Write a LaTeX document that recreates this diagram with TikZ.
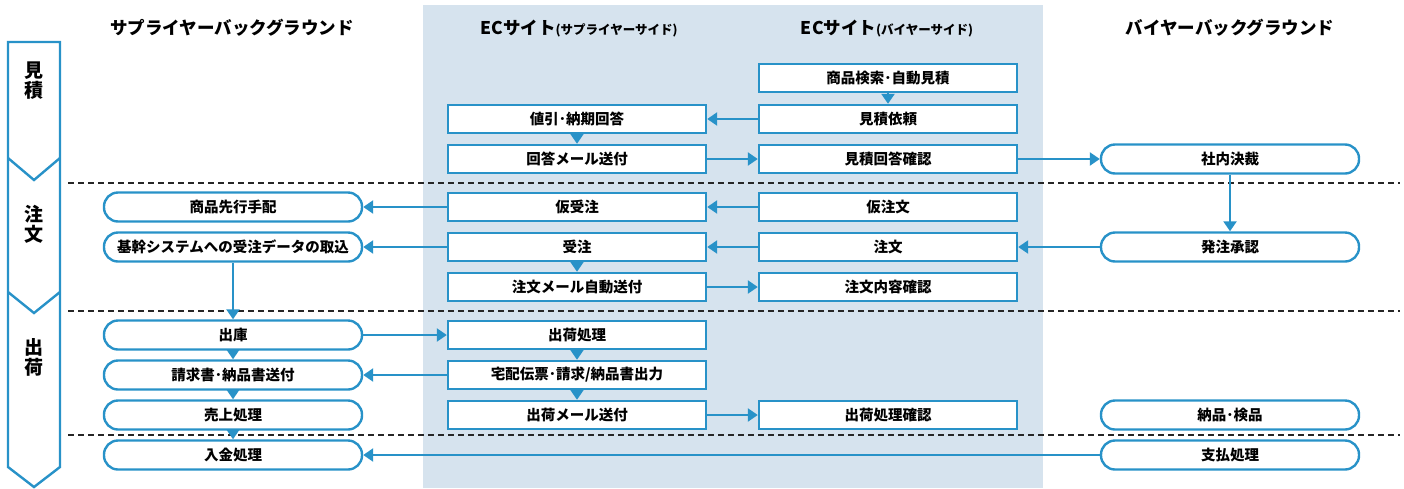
\documentclass[tikz,border=0pt]{standalone}
\usepackage{fontspec}
\setmainfont{Noto Sans CJK JP}
\usetikzlibrary{arrows.meta}

\definecolor{flowblue}{RGB}{40,146,200}
\definecolor{panelblue}{RGB}{214,227,238}

\begin{document}
\begin{tikzpicture}
  [x=1pt,y=-1pt,
   ecbox/.style={draw=flowblue,line width=2.4pt,fill=white,minimum width=258pt,minimum height=28pt,inner sep=0pt,font=\bfseries\fontsize{14.5}{16}\selectfont},
   bgbox/.style={ecbox,rounded corners=14pt,minimum height=29pt},
   flow/.style={draw=flowblue,line width=2.3pt,-{Triangle[length=10pt,width=13pt]}},
   phase/.style={draw=black!85,line width=1.4pt,dash pattern=on 6pt off 4pt},
   head/.style={font=\bfseries\fontsize{17.5}{20}\selectfont},
   steplabel/.style={align=center,inner sep=0pt,font=\bfseries\fontsize{19}{20}\selectfont}]
  \useasboundingbox (0,0) rectangle (1404,488);
  \fill[panelblue] (423,5) rectangle (1043,488);

  % phase column on the left
  \draw[flowblue,line width=2.4pt] (8,42) -- (60,42) -- (60,467) -- (34,487) -- (8,467) -- cycle;
  \draw[flowblue,line width=2.4pt] (8,158) -- (34,180) -- (60,158);
  \draw[flowblue,line width=2.4pt] (8,292) -- (34,313) -- (60,292);
  \node[steplabel] (pMitsumori) at (34,81) {見\\積};
  \node[steplabel] (pChumon) at (34,224) {注\\文};
  \node[steplabel] (pShukka) at (34,357) {出\\荷};

  \draw[phase] (68,183) -- (1400,183);
  \draw[phase] (68,311) -- (1400,311);
  \draw[phase] (68,435) -- (1400,435);

  % headings
  \node[head] (hSupBg) at (232,28) {サプライヤーバックグラウンド};
  \node[head] (hEcSup) at (579,29) {ECサイト{\fontsize{12.5}{14}\selectfont (サプライヤーサイド)}};
  \node[head] (hEcBuy) at (887,29) {ECサイト{\fontsize{12.5}{14}\selectfont (バイヤーサイド)}};
  \node[head] (hBuyBg) at (1230,28) {バイヤーバックグラウンド};

  % supplier background
  \node[bgbox] (sbTehai)    at (233,207) {商品先行手配};
  \node[bgbox] (sbTorikomi) at (233,247) {基幹システムへの受注データの取込};
  \node[bgbox] (sbShukko)   at (233,335) {出庫};
  \node[bgbox] (sbSeikyu)   at (233,375) {請求書･納品書送付};
  \node[bgbox] (sbUriage)   at (233,415) {売上処理};
  \node[bgbox] (sbNyukin)   at (233,455) {入金処理};

  % EC site, supplier side
  \node[ecbox] (esNebiki)     at (577,119) {値引･納期回答};
  \node[ecbox] (esKaito)      at (577,159) {回答メール送付};
  \node[ecbox] (esKariJuchu)  at (577,207) {仮受注};
  \node[ecbox] (esJuchu)      at (577,247) {受注};
  \node[ecbox] (esMail)       at (577,287) {注文メール自動送付};
  \node[ecbox] (esShukka)     at (577,335) {出荷処理};
  \node[ecbox] (esDenpyo)     at (577,375) {宅配伝票･請求/納品書出力};
  \node[ecbox] (esShukkaMail) at (577,415) {出荷メール送付};

  % EC site, buyer side
  \node[ecbox] (ebKensaku)    at (888,78)  {商品検索･自動見積};
  \node[ecbox] (ebIrai)       at (888,119) {見積依頼};
  \node[ecbox] (ebKakunin)    at (888,159) {見積回答確認};
  \node[ecbox] (ebKariChumon) at (888,207) {仮注文};
  \node[ecbox] (ebChumon)     at (888,247) {注文};
  \node[ecbox] (ebNaiyo)      at (888,287) {注文内容確認};
  \node[ecbox] (ebShukka)     at (888,415) {出荷処理確認};

  % buyer background
  \node[bgbox] (bbKessai)   at (1230,159) {社内決裁};
  \node[bgbox] (bbShonin)   at (1230,247) {発注承認};
  \node[bgbox] (bbKenpin)   at (1230,415) {納品･検品};
  \node[bgbox] (bbShiharai) at (1230,455) {支払処理};

  \foreach \source/\dest in {ebKensaku/ebIrai,ebIrai/esNebiki,esNebiki/esKaito,esKaito/ebKakunin,
      ebKakunin/bbKessai,bbKessai/bbShonin,bbShonin/ebChumon,ebKariChumon/esKariJuchu,
      esKariJuchu/sbTehai,ebChumon/esJuchu,esJuchu/sbTorikomi,esJuchu/esMail,esMail/ebNaiyo,
      sbTorikomi/sbShukko,sbShukko/esShukka,esShukka/esDenpyo,esDenpyo/sbSeikyu,
      esDenpyo/esShukkaMail,esShukkaMail/ebShukka,sbShukko/sbSeikyu,sbSeikyu/sbUriage,
      sbUriage/sbNyukin,bbShiharai/sbNyukin}
    \draw[flow] (\source) -- (\dest);
\end{tikzpicture}
\end{document}
